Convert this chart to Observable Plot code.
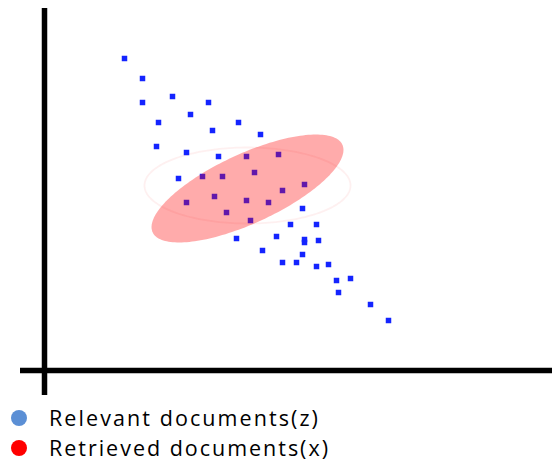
<!DOCTYPE html>
<html>
<head>
<meta charset="utf-8">
<script src="https://cdn.jsdelivr.net/npm/d3@7"></script>
<script src="https://cdn.jsdelivr.net/npm/@observablehq/plot@0.6"></script>
<style>
  html, body { margin: 0; padding: 0; background: #fff; }
  #wrap { position: relative; width: 552px; height: 465px; overflow: hidden; font-family: "Open Sans", "Noto Sans", sans-serif; }
  #chart svg { display: block; }
  .lg { position: absolute; left: 0; height: 30px; white-space: nowrap; }
  .sw { position: absolute; width: 16px; height: 16px; border-radius: 50%; left: 11px; }
  .lt { position: absolute; left: 49px; font-size: 21.5px; color: #000; line-height: 30px; }
</style>
</head>
<body>
<div id="wrap">
  <div id="chart"></div>
</div>
<script>
// Document positions (arbitrary units, origin at the axes crossing)
const docX = [8.0, 9.8, 9.8, 12.8, 16.4, 14.6, 11.4, 16.8, 19.4, 21.6, 11.2, 14.2, 17.4, 20.2, 23.4,
  13.4, 15.8, 17.8, 21.0, 23.8, 26.0, 14.2, 17.0, 20.2, 22.4, 18.2, 20.6, 25.8, 24.6, 27.2,
  19.2, 23.2, 26.0, 26.0, 27.4, 21.8, 25.8, 23.8, 25.2, 27.2, 28.4, 29.2, 30.6, 29.4, 32.6, 34.4];
const docY = [31.2, 29.2, 26.8, 27.4, 26.8, 25.6, 24.8, 24.0, 24.8, 23.6, 22.4, 21.8, 21.4, 21.4, 21.6,
  19.2, 19.4, 19.4, 19.8, 18.0, 18.6, 16.8, 17.4, 17.0, 16.8, 15.8, 15.0, 16.2, 14.6, 14.6,
  13.2, 13.4, 13.1, 12.8, 13.0, 12.0, 11.6, 10.8, 10.8, 10.4, 10.6, 9.0, 9.2, 7.8, 6.6, 5.0];

// Retrieved region (rotated ellipse) and faint outline ellipse, in data units
const retrieved = {cx: 20.3, cy: 18.2, a: 10.45, b: 3.47, angleDeg: 24.8};
const outline = {cx: 20.3, cy: 18.5, a: 10.3, b: 3.8, angleDeg: 0};

const legendLabels = ["Relevant documents(z)", "Retrieved documents(x)"];
const legendColors = ["#5b8fd5", "#ff0000"];

const docs = docX.map((x, i) => ({x, y: docY[i]}));

function ellipsePath(e, n = 180) {
  const t = e.angleDeg * Math.PI / 180;
  return d3.range(n).map(i => {
    const u = 2 * Math.PI * i / n;
    const ex = e.a * Math.cos(u), ey = e.b * Math.sin(u);
    return {x: e.cx + ex * Math.cos(t) - ey * Math.sin(t), y: e.cy + ex * Math.sin(t) + ey * Math.cos(t)};
  });
}

const plot = Plot.plot({
  width: 552,
  height: 398,
  margin: 0,
  x: {domain: [-4.4, 50.8], axis: null},
  y: {domain: [-2.8, 37.0], axis: null},
  marks: [
    Plot.line(ellipsePath(outline), {x: "x", y: "y", curve: "linear-closed", stroke: "#fde4e4", strokeWidth: 1.8, strokeOpacity: 0.55}),
    Plot.dot(docs, {x: "x", y: "y", symbol: "square", r: 3.1, fill: "#1424ff", stroke: "none"}),
    Plot.line(ellipsePath(retrieved), {x: "x", y: "y", curve: "linear-closed", fill: "#ff0000", fillOpacity: 0.33, stroke: "none"}),
    Plot.ruleX([0], {y1: -2.5, y2: 36.2, stroke: "#000", strokeWidth: 5.5}),
    Plot.ruleY([0], {x1: -2.4, x2: 50.8, stroke: "#000", strokeWidth: 5.5})
  ]
});
document.getElementById("chart").appendChild(plot);

const wrap = document.getElementById("wrap");
const rowTops = [403, 433];
const targetWidths = [271, 281];
const ctx = document.createElement("canvas").getContext("2d");
ctx.font = '21.5px "Open Sans"';
legendLabels.forEach((lab, i) => {
  const row = document.createElement("div");
  row.className = "lg";
  row.style.top = rowTops[i] + "px";
  row.style.width = "552px";
  const sw = document.createElement("div");
  sw.className = "sw";
  sw.style.background = legendColors[i];
  sw.style.top = "7px";
  const tx = document.createElement("div");
  tx.className = "lt";
  tx.style.top = "0px";
  tx.textContent = lab;
  const w = ctx.measureText(lab).width;
  tx.style.letterSpacing = Math.max(0, (targetWidths[i] - w) / lab.length) + "px";
  row.appendChild(sw);
  row.appendChild(tx);
  wrap.appendChild(row);
});
</script>
</body>
</html>
